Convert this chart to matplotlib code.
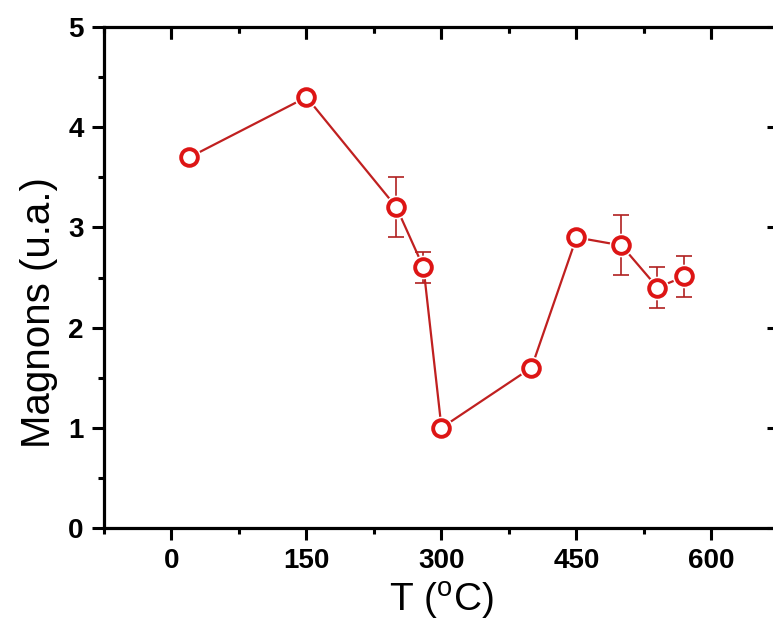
import matplotlib
matplotlib.use("Agg")
import matplotlib.pyplot as plt
import matplotlib.transforms as mtransforms
from matplotlib.markers import TICKDOWN, TICKLEFT
from matplotlib.ticker import MultipleLocator

temperature = [20, 150, 250, 280, 300, 400, 450, 500, 540, 570]
magnons = [3.70, 4.30, 3.20, 2.60, 1.00, 1.60, 2.90, 2.82, 2.40, 2.51]
errors = [0, 0, 0.30, 0.15, 0, 0, 0, 0.30, 0.20, 0.20]
xticks = [0, 150, 300, 450, 600]
yticks = [0, 1, 2, 3, 4, 5]

plt.rcParams['font.family'] = ['Liberation Sans', 'DejaVu Sans']

fig = plt.figure(figsize=(7.73, 6.33), dpi=100)
ax = fig.add_axes([104/773, 105/633, 675/773, 501/633])

ax.errorbar(temperature, magnons, yerr=errors, fmt='none', ecolor='#b02020',
            elinewidth=1.2, capsize=6, capthick=1.2, zorder=2)
ax.plot(temperature, magnons, '-', color='#c02020', lw=1.6, zorder=3)
# white halo under the open markers so the line stops short of them
ax.plot(temperature, magnons, 'o', ls='none', ms=17, mfc='white', mec='white',
        mew=0, zorder=3.5)
ax.plot(temperature, magnons, 'o', ls='none', ms=12, mfc='white', mec='#dd1515',
        mew=2.8, zorder=4)

xlim = (-75, 675)
ylim = (0, 5)
ax.set_xlim(*xlim)
ax.set_ylim(*ylim)
ax.set_xticks(xticks)
ax.set_yticks(yticks)
xminor_loc = MultipleLocator(75)
yminor_loc = MultipleLocator(0.5)
ax.xaxis.set_minor_locator(xminor_loc)
ax.yaxis.set_minor_locator(yminor_loc)

for s in ax.spines.values():
    s.set_linewidth(2.3)

ax.tick_params(which='both', direction='out', width=2.2)
ax.tick_params(which='major', length=8.5, labelsize=20, pad=6)
ax.tick_params(which='minor', length=4.5)
for lab in ax.get_xticklabels() + ax.get_yticklabels():
    lab.set_fontweight('bold')

# inward tick marks on the top and right edges
xminor = [v for v in xminor_loc.tick_values(*xlim) if v not in xticks and xlim[0] <= v <= xlim[1]]
yminor = [v for v in yminor_loc.tick_values(*ylim) if v not in yticks and ylim[0] <= v <= ylim[1]]
top_tr = mtransforms.blended_transform_factory(ax.transData, ax.transAxes)
right_tr = mtransforms.blended_transform_factory(ax.transAxes, ax.transData)
ax.vlines(xticks, 1 - 12 / 501, 1, colors='black', lw=2.2, transform=top_tr,
          clip_on=False, zorder=5)
ax.vlines(xminor, 1 - 6 / 501, 1, colors='black', lw=2.2, transform=top_tr,
          clip_on=False, zorder=5)
for pos, ms in ((xticks, 8.5), (xminor, 4.5)):
    ax.plot(pos, [1] * len(pos), ls='none', marker=TICKDOWN, ms=ms, mew=2.2,
            color='black', transform=top_tr, clip_on=False, zorder=5)
for pos, ms in ((yticks, 8.5), (yminor, 4.5)):
    ax.plot([1] * len(pos), pos, ls='none', marker=TICKLEFT, ms=ms, mew=2.2,
            color='black', transform=right_tr, clip_on=False, zorder=5)

ax.set_xlabel('T ($^{\\mathregular{o}}$C)', fontsize=28, labelpad=4)
ax.set_ylabel('Magnons (u.a.)', fontsize=29)
ax.yaxis.set_label_coords(-0.068, 0.43)

fig.savefig('out.png', dpi=100)
